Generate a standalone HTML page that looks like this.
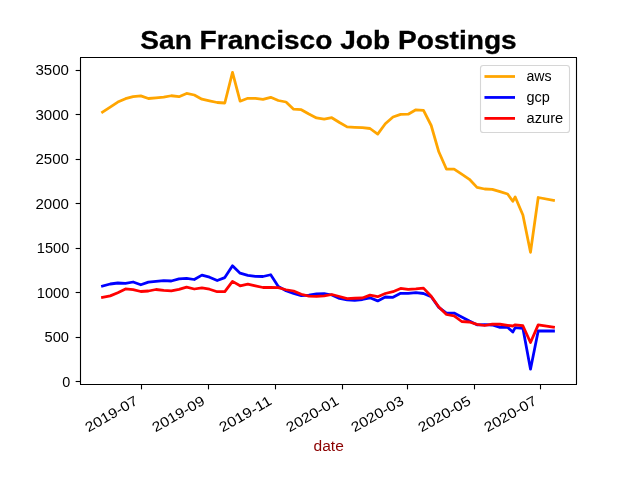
<!DOCTYPE html><html><head><meta charset="utf-8"><title>San Francisco Job Postings</title><style>html,body{margin:0;padding:0;background:#fff;width:640px;height:480px;overflow:hidden}svg{display:block;will-change:transform}text{font-family:"Liberation Sans", sans-serif}</style></head><body>
<svg width="640" height="480" viewBox="0 0 640 480">
<rect x="0" y="0" width="640" height="480" fill="#fff"/>
<polyline fill="none" stroke="#ffa500" stroke-width="2.7778" stroke-linejoin="round" stroke-linecap="square" points="102.50,112.20 110.20,107.10 117.80,102.10 125.50,98.70 133.10,96.60 140.80,95.90 148.40,98.50 156.00,97.80 163.70,97.20 171.30,95.75 179.00,96.70 186.60,93.40 194.30,95.00 201.90,99.20 209.50,100.80 217.20,102.50 224.80,103.00 232.50,72.43 240.10,101.20 247.80,98.30 255.40,98.30 263.00,99.35 270.70,97.30 278.30,100.50 286.00,102.00 293.60,109.20 301.30,109.70 308.90,114.00 316.50,117.90 324.20,119.10 331.80,117.70 339.50,122.50 347.10,126.90 354.70,127.30 362.40,127.70 370.00,128.50 377.70,134.10 385.30,123.75 393.00,117.00 400.60,114.40 408.20,114.20 415.90,109.80 423.50,110.30 431.20,125.50 438.80,151.80 446.50,169.20 454.10,169.20 461.70,174.20 469.40,179.30 477.00,187.40 484.70,189.00 492.30,189.30 500.00,191.70 507.60,194.00 512.80,201.30 515.20,197.00 522.90,215.00 530.50,252.30 538.20,197.50 553.50,200.30"/>
<polyline fill="none" stroke="#0000ff" stroke-width="2.7778" stroke-linejoin="round" stroke-linecap="square" points="102.50,286.10 110.20,284.00 117.80,283.00 125.50,283.30 133.10,282.00 140.80,284.80 148.40,282.10 156.00,281.40 163.70,280.70 171.30,281.00 179.00,278.90 186.60,278.40 194.30,279.50 201.90,275.10 209.50,277.15 217.20,280.50 224.80,277.60 232.50,265.80 240.10,273.20 247.80,275.30 255.40,276.40 263.00,276.50 270.70,274.75 278.30,286.40 286.00,290.70 293.60,293.50 301.30,295.60 308.90,295.20 316.50,293.90 324.20,293.70 331.80,295.00 339.50,298.50 347.10,299.80 354.70,300.35 362.40,299.50 370.00,297.80 377.70,300.90 385.30,297.00 393.00,297.30 400.60,293.30 408.20,293.30 415.90,292.70 423.50,293.50 431.20,296.70 438.80,307.40 446.50,313.10 454.10,313.10 461.70,317.00 469.40,321.10 477.00,324.80 484.70,324.70 492.30,325.00 500.00,327.30 507.60,327.30 512.80,332.10 515.20,327.70 522.90,328.30 530.50,369.16 538.20,331.00 553.50,331.00"/>
<polyline fill="none" stroke="#ff0000" stroke-width="2.7778" stroke-linejoin="round" stroke-linecap="square" points="102.50,297.40 110.20,295.90 117.80,292.70 125.50,288.90 133.10,289.60 140.80,291.50 148.40,291.00 156.00,289.50 163.70,290.40 171.30,290.80 179.00,289.40 186.60,287.10 194.30,289.00 201.90,287.80 209.50,289.20 217.20,291.70 224.80,291.70 232.50,281.40 240.10,285.80 247.80,284.20 255.40,285.80 263.00,287.50 270.70,287.40 278.30,287.70 286.00,289.75 293.60,291.00 301.30,294.25 308.90,296.10 316.50,296.40 324.20,295.90 331.80,294.50 339.50,296.50 347.10,298.60 354.70,298.25 362.40,298.00 370.00,295.10 377.70,296.70 385.30,293.50 393.00,291.70 400.60,288.40 408.20,289.40 415.90,288.90 423.50,288.10 431.20,296.20 438.80,307.00 446.50,314.50 454.10,315.90 461.70,321.50 469.40,322.00 477.00,324.30 484.70,325.50 492.30,324.10 500.00,324.25 507.60,325.30 512.80,326.00 515.20,324.80 522.90,325.75 530.50,342.50 538.20,324.90 553.50,327.20"/>
<g stroke="#000" stroke-width="1.1111" fill="none" stroke-linecap="butt">
<path d="M80.5 384.5V57.5M576.5 384.5V57.5M80 384.5H577M80 57.5H577"/>
<path d="M75.64 381.5H80.5"/>
<path d="M75.64 337.5H80.5"/>
<path d="M75.64 292.5H80.5"/>
<path d="M75.64 248.5H80.5"/>
<path d="M75.64 203.5H80.5"/>
<path d="M75.64 159.5H80.5"/>
<path d="M75.64 114.5H80.5"/>
<path d="M75.64 70.5H80.5"/>
<path d="M141.5 384.5V389.36"/>
<path d="M208.5 384.5V389.36"/>
<path d="M275.5 384.5V389.36"/>
<path d="M342.5 384.5V389.36"/>
<path d="M407.5 384.5V389.36"/>
<path d="M474.5 384.5V389.36"/>
<path d="M540.5 384.5V389.36"/>
</g>
<g font-size="13.89px" fill="#000" text-anchor="end">
<text x="70.30" y="386.57" textLength="8.00" lengthAdjust="spacingAndGlyphs">0</text>
<text x="69.00" y="342.07" textLength="24.50" lengthAdjust="spacingAndGlyphs">500</text>
<text x="69.30" y="297.57" textLength="32.50" lengthAdjust="spacingAndGlyphs">1000</text>
<text x="69.30" y="253.07" textLength="32.50" lengthAdjust="spacingAndGlyphs">1500</text>
<text x="69.00" y="208.57" textLength="33.50" lengthAdjust="spacingAndGlyphs">2000</text>
<text x="69.00" y="164.07" textLength="33.50" lengthAdjust="spacingAndGlyphs">2500</text>
<text x="69.00" y="119.57" textLength="33.50" lengthAdjust="spacingAndGlyphs">3000</text>
<text x="69.00" y="75.07" textLength="33.50" lengthAdjust="spacingAndGlyphs">3500</text>
</g>
<g font-size="13.89px" fill="#000" text-anchor="end">
<text x="138.80" y="403.60" transform="rotate(-30 138.80 403.60)" textLength="58.00" lengthAdjust="spacingAndGlyphs">2019-07</text>
<text x="205.80" y="403.60" transform="rotate(-30 205.80 403.60)" textLength="58.00" lengthAdjust="spacingAndGlyphs">2019-09</text>
<text x="272.80" y="403.60" transform="rotate(-30 272.80 403.60)" textLength="58.00" lengthAdjust="spacingAndGlyphs">2019-11</text>
<text x="339.80" y="403.60" transform="rotate(-30 339.80 403.60)" textLength="58.00" lengthAdjust="spacingAndGlyphs">2020-01</text>
<text x="404.80" y="403.60" transform="rotate(-30 404.80 403.60)" textLength="58.00" lengthAdjust="spacingAndGlyphs">2020-03</text>
<text x="471.80" y="403.60" transform="rotate(-30 471.80 403.60)" textLength="58.00" lengthAdjust="spacingAndGlyphs">2020-05</text>
<text x="537.80" y="403.60" transform="rotate(-30 537.80 403.60)" textLength="58.00" lengthAdjust="spacingAndGlyphs">2020-07</text>
</g>
<text x="328.70" y="451.00" font-size="13.89px" fill="#8b0000" text-anchor="middle" textLength="30.30" lengthAdjust="spacingAndGlyphs">date</text>
<text x="328.50" y="49.00" font-size="26.20px" font-weight="bold" fill="#000" stroke="#000" stroke-width="0.32" text-anchor="middle" textLength="376.50" lengthAdjust="spacingAndGlyphs">San Francisco Job Postings</text>
<rect x="480.5" y="65.5" width="89" height="67" rx="2.78" ry="2.78" fill="#fff" fill-opacity="0.8" stroke="#cccccc" stroke-opacity="0.8" stroke-width="1.1111"/>
<path d="M485.86 76.50H513.64" stroke="#ffa500" stroke-width="2.7778" stroke-linecap="square"/>
<text x="526.50" y="81.00" font-size="13.89px" fill="#000" textLength="25.12" lengthAdjust="spacingAndGlyphs">aws</text>
<path d="M485.86 97.44H513.64" stroke="#0000ff" stroke-width="2.7778" stroke-linecap="square"/>
<text x="526.50" y="101.94" font-size="13.89px" fill="#000" textLength="23.38" lengthAdjust="spacingAndGlyphs">gcp</text>
<path d="M485.86 118.38H513.64" stroke="#ff0000" stroke-width="2.7778" stroke-linecap="square"/>
<text x="526.50" y="122.88" font-size="13.89px" fill="#000" textLength="36.75" lengthAdjust="spacingAndGlyphs">azure</text>
</svg></body></html>
